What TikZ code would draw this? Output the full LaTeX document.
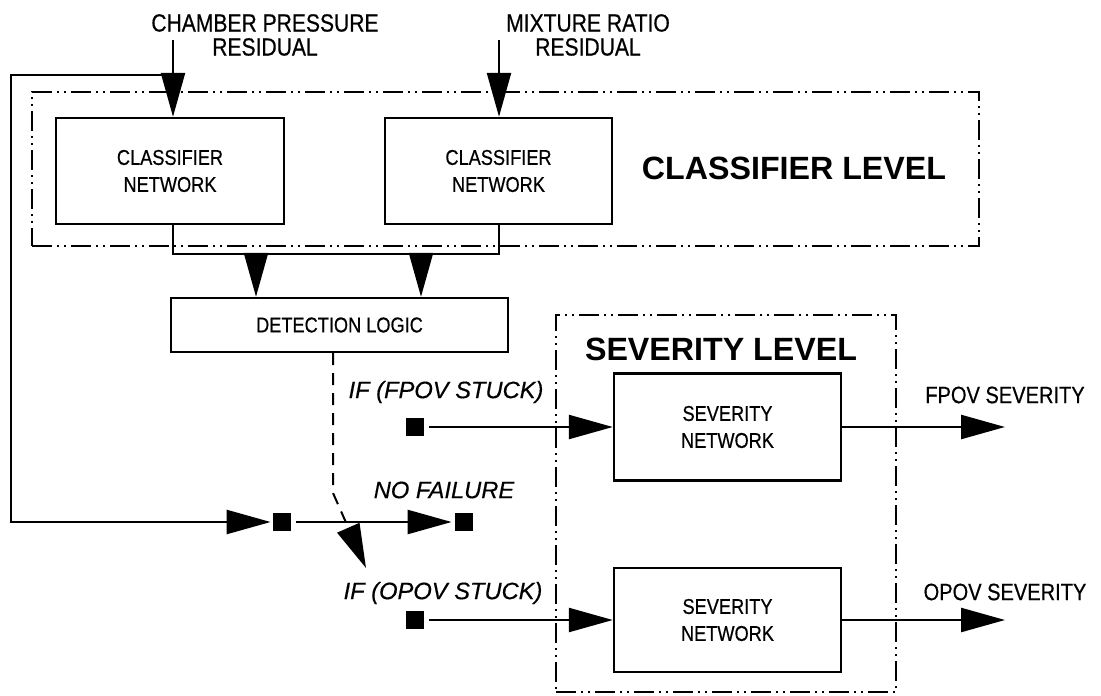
\documentclass[tikz,border=0pt]{standalone}
\usepackage{fontspec}
\setmainfont{Liberation Sans}
\newfontfamily\narrowfont{Liberation Sans}[FakeStretch=0.85, FakeBold=0.5]
\newfontfamily\condfont{Liberation Sans Italic}[FakeBold=0.4]
\usetikzlibrary{arrows.meta}

\tikzset{
  netbox/.style={draw, line width=1.2pt, align=center, inner sep=0pt,
    font=\narrowfont\fontsize{10.7}{13.5}\selectfont},
  levelbox/.style={draw, line width=1.1pt, inner sep=0pt,
    dash pattern=on 10pt off 2.5pt on 1pt off 2.5pt on 1pt off 2.5pt},
  bigarrow/.style={line width=1.2pt, -{Triangle[length=22pt,width=12pt]}},
  inlabel/.style={align=center, font=\narrowfont\fontsize{12.4}{12}\selectfont},
  outlabel/.style={font=\narrowfont\fontsize{11.8}{14}\selectfont},
  condlabel/.style={font=\condfont\fontsize{11.85}{14}\selectfont},
  levellabel/.style={font=\bfseries\fontsize{16.1}{19}\selectfont},
  swnode/.style={fill, minimum size=9pt, inner sep=0pt},
}

\begin{document}
\begin{tikzpicture}[x=0.5pt, y=-0.5pt]
\useasboundingbox (0,0) rectangle (1101,695);
% residual inputs
\node[inlabel] (cpr) at (265,35) {CHAMBER PRESSURE\\RESIDUAL};
\node[inlabel] (mrr) at (588,35) {MIXTURE RATIO\\RESIDUAL};
\coordinate (in1) at (173,40);
\coordinate (in2) at (499,40);
% classifier level
\node[netbox, minimum width=114pt, minimum height=53pt] (cls1) at (170,171) {CLASSIFIER\\NETWORK};
\node[netbox, minimum width=113.5pt, minimum height=53pt] (cls2) at (498.5,171) {CLASSIFIER\\NETWORK};
\node[levelbox, minimum width=473.5pt, minimum height=77pt] (clsframe) at (505.5,169) {};
\node[levellabel] (clslbl) at (794,168) {CLASSIFIER LEVEL};
\draw[bigarrow] (in1) -- (in1 |- cls1.north);
\draw[bigarrow] (in2) -- (in2 |- cls2.north);
% feedback to the switch
\coordinate (fb) at (173,75);
\coordinate (fbc) at (11,75);
\node[swnode] (sw1) at (282,522) {};
\node[swnode] (sw2) at (464,522) {};
\draw[bigarrow, shorten >=1pt] (fb) -- (fbc) |- (sw1.west);
\draw[bigarrow, shorten <=2.5pt, shorten >=1.5pt] (sw1) -- (sw2);
\node[condlabel] (nof) at (444,490) {NO FAILURE};
% detection
\node[netbox, minimum width=168.5pt, minimum height=27pt] (det) at (339.5,325) {DETECTION LOGIC};
\draw[line width=1.2pt] (in1 |- cls1.south) -- ++(0,29) -| (in2 |- cls2.south);
\coordinate (b1) at (256,253);
\coordinate (b2) at (421,253);
\draw[bigarrow] (b1) -- (b1 |- det.north);
\draw[bigarrow] (b2) -- (b2 |- det.north);
\coordinate (dl) at (333,493);
\coordinate (dtip) at (366,568);
\draw[bigarrow, line width=1pt, dash pattern=on 6pt off 4pt] (det.south -| dl) -- (dl) -- (dtip);
% severity level
\node[condlabel] (iff) at (446,392) {IF (FPOV STUCK)};
\node[condlabel] (ifo) at (443,593) {IF (OPOV STUCK)};
\node[swnode] (sqf) at (415,427) {};
\node[swnode] (sqo) at (415,620) {};
\node[netbox, minimum width=113.5pt, minimum height=53.5pt] (sev1) at (727.5,427) {SEVERITY\\NETWORK};
\node[netbox, minimum width=113.5pt, minimum height=52pt] (sev2) at (727.5,620) {SEVERITY\\NETWORK};
\node[levelbox, minimum width=170pt, minimum height=188.5pt] (sevframe) at (726,503.5) {};
\node[levellabel] (sevlbl) at (721,349) {SEVERITY LEVEL};
\draw[bigarrow, shorten <=2.5pt] (sqf) -- (sev1);
\draw[bigarrow, shorten <=2.5pt] (sqo) -- (sev2);
\coordinate (out1) at (1005,427);
\coordinate (out2) at (1005,620);
\draw[bigarrow] (sev1) -- (out1);
\draw[bigarrow] (sev2) -- (out2);
\node[outlabel] (fsev) at (1005,395) {FPOV SEVERITY};
\node[outlabel] (osev) at (1005,592) {OPOV SEVERITY};
\end{tikzpicture}
\end{document}
